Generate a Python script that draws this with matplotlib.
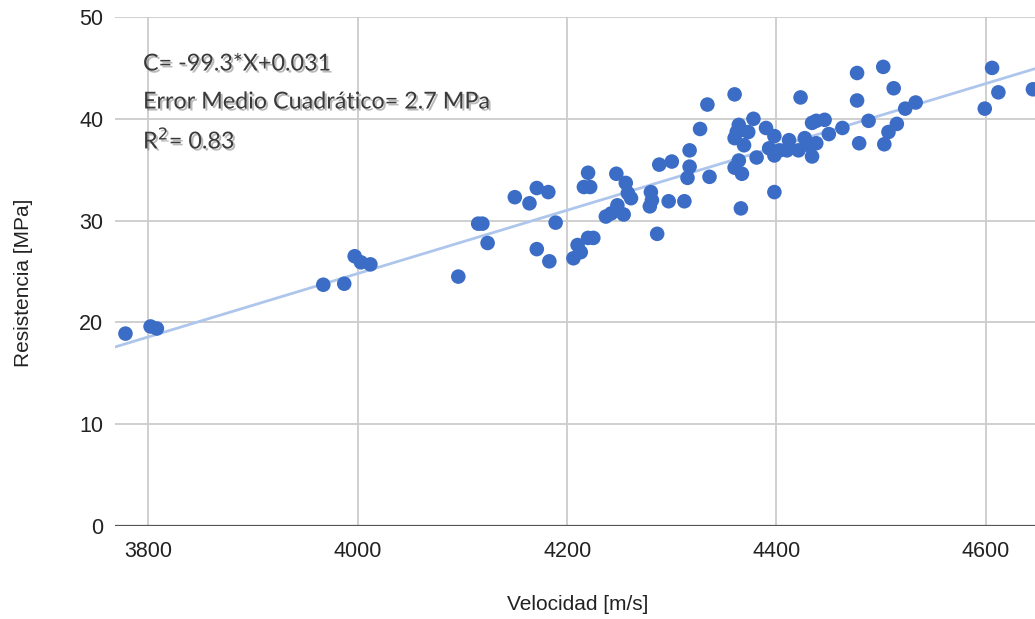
import matplotlib.pyplot as plt
import matplotlib.patheffects as pe
import numpy as np

# velocity [m/s] and strength [MPa]
velocidad = [3778, 3802, 3808, 3967, 3987, 3997, 4003, 4012, 4096, 4115,
             4119, 4124, 4150, 4164, 4171, 4182, 4171, 4183, 4189, 4206,
             4210, 4213, 4220, 4225, 4220, 4216, 4222, 4247, 4256, 4258,
             4261, 4237, 4242, 4248, 4254, 4280, 4281, 4279, 4286, 4288,
             4300, 4297, 4312, 4317, 4317, 4315, 4336, 4327, 4334, 4360,
             4366, 4360, 4367, 4364, 4364, 4362, 4360, 4366, 4369, 4373,
             4378, 4381, 4390, 4398, 4398, 4393, 4398, 4403, 4412, 4410,
             4421, 4427, 4431, 4434, 4438, 4423, 4434, 4438, 4446, 4450,
             4463, 4479, 4477, 4477, 4488, 4502, 4503, 4507, 4512, 4515,
             4523, 4533, 4599, 4606, 4612, 4645]
resistencia = [18.9, 19.6, 19.4, 23.7, 23.8, 26.5, 25.9, 25.7, 24.5, 29.7,
               29.7, 27.8, 32.3, 31.7, 33.2, 32.8, 27.2, 26.0, 29.8, 26.3,
               27.6, 26.9, 28.3, 28.3, 34.7, 33.3, 33.3, 34.6, 33.7, 32.7,
               32.2, 30.4, 30.7, 31.5, 30.6, 32.8, 32.0, 31.4, 28.7, 35.5,
               35.8, 31.9, 31.9, 36.9, 35.3, 34.2, 34.3, 39.0, 41.4, 42.4,
               31.2, 35.2, 34.6, 35.9, 39.4, 38.7, 38.1, 38.9, 37.4, 38.7,
               40.0, 36.2, 39.1, 38.3, 32.8, 37.1, 36.4, 36.9, 37.9, 36.9,
               36.9, 38.1, 37.4, 36.3, 37.6, 42.1, 39.6, 39.8, 39.9, 38.5,
               39.1, 37.6, 41.8, 44.5, 39.8, 45.1, 37.5, 38.7, 43.0, 39.5,
               41.0, 41.6, 41.0, 45.0, 42.6, 42.9]

# trend line as drawn
fit_slope = 0.0311
fit_intercept = -99.6

xticks = [3800, 4000, 4200, 4400, 4600]
yticks = [0, 10, 20, 30, 40, 50]
xlim = (3768, 4647)

W, H = 1035, 619
fig = plt.figure(figsize=(W / 100, H / 100), dpi=100)
ax = fig.add_axes([115 / W, 1 - 526 / H, 1 - 115 / W, (526 - 17) / H])

ax.set_xlim(xlim)
ax.set_ylim(0, 50)
ax.set_xticks(xticks)
ax.set_yticks(yticks)
ax.grid(True, color='#cccccc', linewidth=1.3)
ax.set_axisbelow(True)
for s in ['top', 'right', 'left', 'bottom']:
    ax.spines[s].set_visible(False)
ax.axhline(0, color='#555555', linewidth=1.6, zorder=1)
ax.tick_params(length=0, labelsize=15.5, colors='#222222')
ax.tick_params(axis='x', pad=11)
ax.tick_params(axis='y', pad=8.5)
for lab in ax.get_xticklabels() + ax.get_yticklabels():
    lab.set_fontfamily('Liberation Sans')

# regression line
xl = np.array(xlim)
ax.plot(xl, fit_slope * xl + fit_intercept, color='#aec6ec', linewidth=2, zorder=2)

ax.scatter(velocidad, resistencia, s=110, color='#3b6cc6', edgecolors='none', zorder=3)

fig.text(578 / W, 1 - 605 / H, 'Velocidad [m/s]', fontsize=15, family='Liberation Sans',
         color='#222222', ha='center', va='center')
fig.text(24 / W, 1 - 283 / H, 'Resistencia [MPa]', fontsize=15, family='Liberation Sans',
         color='#222222', ha='center', va='center', rotation=90)

# annotation with a soft shadow
shadow = [pe.withSimplePatchShadow(offset=(1.5, -1.5), shadow_rgbFace='#777777', alpha=0.5)]
lines = ['C= -99.3*X+0.031', 'Error Medio Cuadrático= 2.7 MPa', r'R$^2$= 0.83']
for i, t in enumerate(lines):
    fig.text(143 / W, 1 - (64 + 38 * i) / H, t, fontsize=16.8, family='Lato',
             color='#3a3a3a', va='center', ha='left', path_effects=shadow)

plt.savefig('out.png', dpi=100)
